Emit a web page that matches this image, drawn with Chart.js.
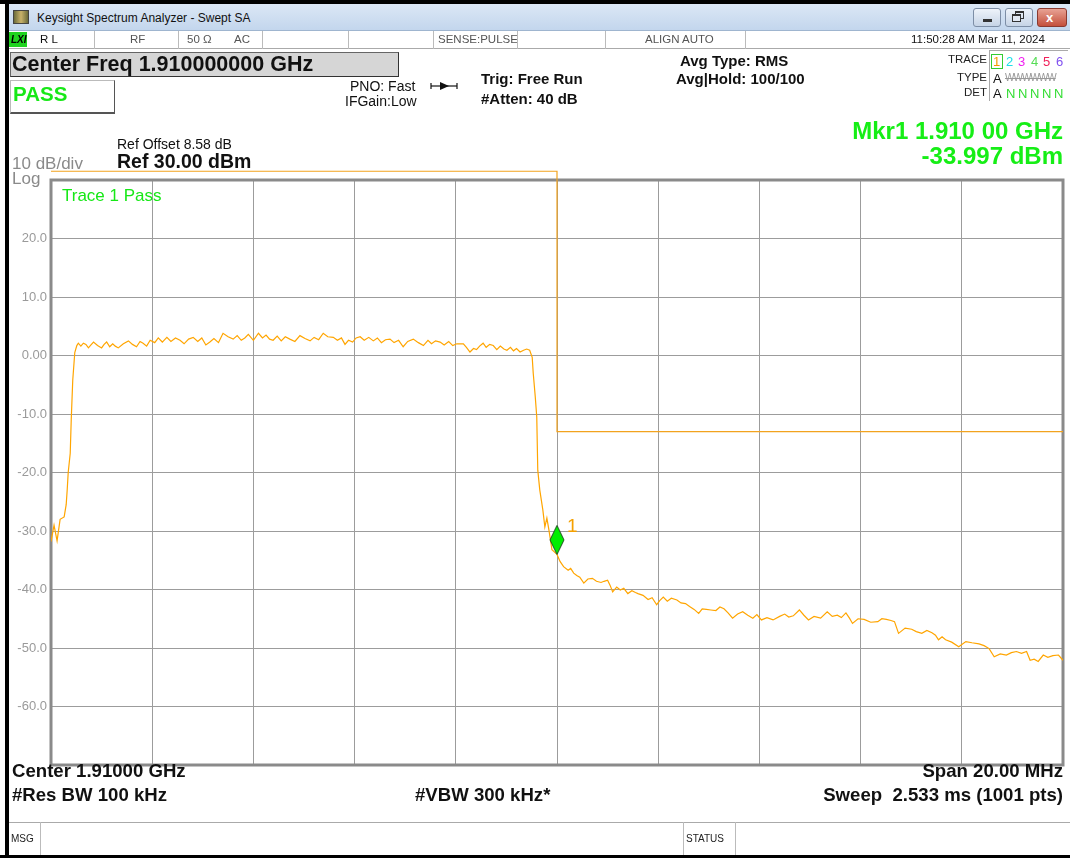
<!DOCTYPE html>
<html>
<head>
<meta charset="utf-8">
<title>Keysight Spectrum Analyzer - Swept SA</title>
<script src="https://cdn.jsdelivr.net/npm/chart.js@4.4.1/dist/chart.umd.min.js"></script>
<style>
  body { margin: 0; background: #fff; }
  #screen { position: relative; width: 1070px; height: 858px; overflow: hidden; background: #fff;
            font-family: "Liberation Sans", Arial, sans-serif; }
  #scope { position: absolute; left: 0; top: 0; }
  .t { position: absolute; white-space: nowrap; line-height: 1; }
  .b { font-weight: bold; }
  .box { position: absolute; box-sizing: border-box; }
</style>
</head>
<body>
<div id="screen">
  <canvas id="scope" width="1070" height="858"></canvas>

  <!-- window frame -->
  <div class="box" style="left:0;top:0;width:1070px;height:4px;background:#000"></div>
  <div class="box" style="left:5px;top:0;width:4px;height:858px;background:#000"></div>
  <div class="box" style="left:0;top:855px;width:1070px;height:3px;background:#000"></div>
  <div class="box" style="left:9px;top:4px;width:1061px;height:27px;background:linear-gradient(#dbe7f5,#c3d6ed);border-bottom:1px solid #9fb5cf"></div>
  <div class="box" style="left:13px;top:10px;width:16px;height:14px;background:linear-gradient(90deg,#6b6b3a,#c9b26a,#6b6b3a);border:1px solid #444"></div>
  <div class="t" style="left:37px;top:12px;font-size:12px;color:#111">Keysight Spectrum Analyzer - Swept SA</div>
  <div class="box" style="left:973px;top:8px;width:28px;height:19px;border:1px solid #7d8ea6;border-radius:3px;background:linear-gradient(#eef3fa,#c6d4e6)"></div>
  <div class="box" style="left:983px;top:19px;width:9px;height:3px;background:#333"></div>
  <div class="box" style="left:1005px;top:8px;width:28px;height:19px;border:1px solid #7d8ea6;border-radius:3px;background:linear-gradient(#eef3fa,#c6d4e6)"></div>
  <div class="box" style="left:1015px;top:11px;width:9px;height:8px;border:1px solid #333;border-top-width:2px"></div>
  <div class="box" style="left:1012px;top:14px;width:9px;height:8px;border:1px solid #333;border-top-width:2px;background:#e2e9f3"></div>
  <div class="box" style="left:1037px;top:8px;width:30px;height:19px;border:1px solid #8a3a30;border-radius:3px;background:linear-gradient(#e8a294,#c4503c)"></div>
  <div class="t b" style="left:1046px;top:11px;font-size:13px;color:#fff">x</div>

  <!-- status row -->
  <div class="box" style="left:9px;top:31px;width:1061px;height:18px;border-bottom:1px solid #aaa"></div>
  <div class="box" style="left:9px;top:32px;width:18px;height:15px;background:#1fd31f"></div>
  <div class="t b" style="left:11px;top:35px;font-size:10px;font-style:italic;color:#000">LXI</div>
  <div class="t" style="left:40px;top:34px;font-size:11.5px;color:#111">R L</div>
  <div class="box" style="left:94px;top:31px;width:1px;height:18px;background:#bbb"></div>
  <div class="t" style="left:130px;top:34px;font-size:11.5px;color:#555">RF</div>
  <div class="box" style="left:178px;top:31px;width:1px;height:18px;background:#bbb"></div>
  <div class="t" style="left:187px;top:34px;font-size:11.5px;color:#555">50 Ω</div>
  <div class="t" style="left:234px;top:34px;font-size:11.5px;color:#555">AC</div>
  <div class="box" style="left:262px;top:31px;width:1px;height:18px;background:#bbb"></div>
  <div class="box" style="left:348px;top:31px;width:1px;height:18px;background:#bbb"></div>
  <div class="box" style="left:433px;top:31px;width:1px;height:18px;background:#bbb"></div>
  <div class="t" style="left:438px;top:34px;font-size:11.5px;color:#555">SENSE:PULSE</div>
  <div class="box" style="left:517px;top:31px;width:1px;height:18px;background:#bbb"></div>
  <div class="box" style="left:605px;top:31px;width:1px;height:18px;background:#bbb"></div>
  <div class="t" style="left:645px;top:34px;font-size:11.5px;color:#555">ALIGN AUTO</div>
  <div class="box" style="left:745px;top:31px;width:1px;height:18px;background:#bbb"></div>
  <div class="t" style="left:911px;top:34px;font-size:11.5px;color:#111">11:50:28 AM Mar 11, 2024</div>

  <!-- settings block -->
  <div class="box" style="left:10px;top:52px;width:389px;height:25px;background:#d6d6d6;border:1px solid #666;border-right-color:#333;border-bottom-color:#333"></div>
  <div class="t b" style="left:12px;top:54px;font-size:21.5px;color:#111">Center Freq 1.910000000 GHz</div>
  <div class="box" style="left:10px;top:80px;width:105px;height:34px;border:1px solid #bbb;border-right-color:#555;border-bottom:2px solid #555"></div>
  <div class="t b" style="left:13px;top:84px;font-size:20.5px;color:#17e817">PASS</div>
  <div class="t" style="left:350px;top:79px;font-size:14px;color:#111">PNO: Fast</div>
  <div class="t" style="left:345px;top:94px;font-size:14px;color:#111">IFGain:Low</div>
  <svg class="t" style="left:430px;top:80px" width="28" height="12">
    <line x1="1" y1="6" x2="27" y2="6" stroke="#111" stroke-width="1.2"/>
    <line x1="1" y1="3" x2="1" y2="9" stroke="#111" stroke-width="1.2"/>
    <line x1="27" y1="3" x2="27" y2="9" stroke="#111" stroke-width="1.2"/>
    <polygon points="10,2 19,6 10,10" fill="#111"/>
  </svg>
  <div class="t b" style="left:481px;top:71px;font-size:15px;color:#111">Trig: Free Run</div>
  <div class="t b" style="left:481px;top:91px;font-size:15px;color:#111">#Atten: 40 dB</div>
  <div class="t b" style="left:680px;top:53px;font-size:15px;color:#111">Avg Type: RMS</div>
  <div class="t b" style="left:676px;top:71px;font-size:15px;color:#111">Avg|Hold: 100/100</div>

  <!-- trace table -->
  <div class="box" style="left:989px;top:50px;width:79px;height:1px;background:#aaa"></div>
  <div class="box" style="left:989px;top:50px;width:1px;height:51px;background:#aaa"></div>
  <div class="t" style="right:83px;top:54px;font-size:11.5px;color:#222">TRACE</div>
  <div class="t" style="right:83px;top:72px;font-size:11.5px;color:#222">TYPE</div>
  <div class="t" style="right:83px;top:87px;font-size:11.5px;color:#222">DET</div>
  <div class="box" style="left:991px;top:54px;width:12px;height:15px;border:1px solid #3c3"></div>
  <div class="t" style="left:993px;top:55px;font-size:13px;color:#f39a00">1</div>
  <div class="t" style="left:1006px;top:55px;font-size:13px;color:#1de0e8">2</div>
  <div class="t" style="left:1018px;top:55px;font-size:13px;color:#f020f0">3</div>
  <div class="t" style="left:1031px;top:55px;font-size:13px;color:#55dd55">4</div>
  <div class="t" style="left:1043px;top:55px;font-size:13px;color:#f0205a">5</div>
  <div class="t" style="left:1056px;top:55px;font-size:13px;color:#8050f0">6</div>
  <div class="t" style="left:993px;top:72px;font-size:13px;color:#111">A</div>
  <div class="t" style="left:1005px;top:73px;font-size:10px;color:#999;text-decoration:line-through;letter-spacing:-1px">WWWWWW</div>
  <div class="t" style="left:993px;top:87px;font-size:13px;color:#111">A</div>
  <div class="t" style="left:1006px;top:87px;font-size:13px;color:#33dd33;letter-spacing:2.6px">NNNNN</div>

  <!-- marker readout and reference -->
  <div class="t b" style="right:7px;top:119px;font-size:24px;color:#16ee16">Mkr1 1.910 00 GHz</div>
  <div class="t b" style="right:7px;top:144px;font-size:24px;color:#16ee16">-33.997 dBm</div>
  <div class="t" style="left:117px;top:137px;font-size:14px;color:#111">Ref Offset 8.58 dB</div>
  <div class="t b" style="left:117px;top:152px;font-size:19.5px;color:#111">Ref 30.00 dBm</div>
  <div class="t" style="left:12px;top:155px;font-size:17px;color:#8a8a8a">10 dB/div</div>
  <div class="t" style="left:12px;top:170px;font-size:17px;color:#8a8a8a">Log</div>
  <div class="t" style="left:62px;top:187px;font-size:17px;color:#16e816">Trace 1 Pass</div>
  <div class="t" style="left:567px;top:516px;font-size:19px;color:#f5a000">1</div>

  <!-- bottom annotations -->
  <div class="t b" style="left:12px;top:762px;font-size:18.6px;color:#111">Center 1.91000 GHz</div>
  <div class="t b" style="right:7px;top:762px;font-size:18.6px;color:#111">Span 20.00 MHz</div>
  <div class="t b" style="left:12px;top:786px;font-size:18.6px;color:#111">#Res BW 100 kHz</div>
  <div class="t b" style="left:415px;top:786px;font-size:18.6px;color:#111">#VBW 300 kHz*</div>
  <div class="t b" style="right:7px;top:786px;font-size:18.6px;color:#111">Sweep&nbsp; 2.533 ms (1001 pts)</div>
  <div class="box" style="left:9px;top:822px;width:1061px;height:1px;background:#aaa"></div>
  <div class="box" style="left:40px;top:822px;width:1px;height:33px;background:#bbb"></div>
  <div class="box" style="left:683px;top:822px;width:1px;height:33px;background:#bbb"></div>
  <div class="box" style="left:735px;top:822px;width:1px;height:33px;background:#bbb"></div>
  <div class="t" style="left:11px;top:834px;font-size:10px;color:#222">MSG</div>
  <div class="t" style="left:686px;top:834px;font-size:10px;color:#222">STATUS</div>
</div>

<script>
  // trace 1 (MHz, dBm)
  var freqMHz = [
    1900.00, 1900.06, 1900.12, 1900.18, 1900.26, 1900.30, 1900.32, 1900.34, 1900.38, 1900.40,
    1900.43, 1900.47, 1900.51, 1900.54, 1900.59, 1900.64, 1900.69, 1900.74, 1900.79, 1900.84,
    1900.92, 1901.00, 1901.05, 1901.10, 1901.16, 1901.22, 1901.27, 1901.33, 1901.43, 1901.53,
    1901.61, 1901.69, 1901.76, 1901.82, 1901.89, 1901.96, 1902.05, 1902.12, 1902.20, 1902.29,
    1902.37, 1902.46, 1902.55, 1902.63, 1902.72, 1902.81, 1902.90, 1902.98, 1903.06, 1903.14,
    1903.22, 1903.31, 1903.40, 1903.50, 1903.60, 1903.68, 1903.76, 1903.83, 1903.90, 1904.00,
    1904.10, 1904.18, 1904.25, 1904.32, 1904.39, 1904.47, 1904.55, 1904.63, 1904.72, 1904.82,
    1904.92, 1905.02, 1905.12, 1905.20, 1905.29, 1905.38, 1905.47, 1905.58, 1905.66, 1905.74,
    1905.81, 1905.88, 1905.96, 1906.03, 1906.11, 1906.19, 1906.28, 1906.37, 1906.45, 1906.53,
    1906.61, 1906.70, 1906.78, 1906.87, 1906.96, 1907.05, 1907.16, 1907.26, 1907.36, 1907.45,
    1907.52, 1907.60, 1907.69, 1907.77, 1907.86, 1907.94, 1908.02, 1908.15, 1908.21, 1908.28,
    1908.35, 1908.41, 1908.47, 1908.54, 1908.60, 1908.67, 1908.74, 1908.81, 1908.88, 1908.95,
    1909.01, 1909.08, 1909.14, 1909.20, 1909.27, 1909.34, 1909.40, 1909.46, 1909.51, 1909.53,
    1909.57, 1909.60, 1909.62, 1909.66, 1909.72, 1909.76, 1909.80, 1909.84, 1909.90, 1910.00,
    1910.06, 1910.13, 1910.22, 1910.27, 1910.33, 1910.39, 1910.45, 1910.53, 1910.61, 1910.70,
    1910.78, 1910.87, 1910.93, 1911.00, 1911.05, 1911.10, 1911.18, 1911.25, 1911.32, 1911.40,
    1911.48, 1911.55, 1911.60, 1911.70, 1911.80, 1911.88, 1911.97, 1912.03, 1912.10, 1912.18,
    1912.26, 1912.37, 1912.45, 1912.54, 1912.62, 1912.71, 1912.80, 1912.87, 1912.95, 1913.04,
    1913.14, 1913.22, 1913.30, 1913.38, 1913.47, 1913.57, 1913.67, 1913.77, 1913.87, 1913.95,
    1914.04, 1914.15, 1914.27, 1914.40, 1914.50, 1914.58, 1914.67, 1914.79, 1914.88, 1914.97,
    1915.08, 1915.21, 1915.34, 1915.44, 1915.54, 1915.62, 1915.71, 1915.78, 1915.84, 1915.95,
    1916.07, 1916.20, 1916.34, 1916.42, 1916.51, 1916.60, 1916.67, 1916.75, 1916.88, 1917.01,
    1917.10, 1917.21, 1917.31, 1917.41, 1917.48, 1917.54, 1917.61, 1917.68, 1917.80, 1917.94,
    1918.08, 1918.20, 1918.34, 1918.44, 1918.54, 1918.64, 1918.76, 1918.88, 1918.98, 1919.08,
    1919.18, 1919.28, 1919.35, 1919.43, 1919.51, 1919.61, 1919.70, 1919.80, 1919.91, 1920.00
  ];
  var traceDbm = [
    -31.8, -29.0, -31.7, -28.0, -27.6, -25.5, -23.0, -20.0, -16.7, -11.0,
    -4.2, 0.5, 1.7, 2.1, 1.6, 2.1, 1.9, 1.3, 1.8, 2.3,
    1.7, 1.3, 1.9, 2.3, 1.5, 2.0, 1.6, 1.3, 2.0, 2.5,
    1.9, 1.5, 2.4, 2.1, 1.6, 2.6, 2.2, 3.0, 2.3, 3.1,
    2.4, 3.0, 2.6, 2.0, 2.8, 3.1, 2.4, 3.0, 1.8, 2.3,
    2.9, 2.2, 3.8, 3.2, 2.8, 3.4, 2.6, 3.0, 3.6, 2.6,
    3.8, 3.0, 3.5, 2.8, 2.6, 3.3, 2.5, 3.2, 2.8, 2.4,
    3.4, 2.9, 2.5, 3.1, 2.7, 3.8, 3.2, 3.1, 2.6, 3.0,
    1.9, 2.6, 2.3, 3.0, 3.2, 2.6, 3.1, 2.5, 3.0, 2.2,
    2.7, 2.8, 2.2, 2.6, 1.5, 2.4, 2.8, 2.2, 1.7, 2.6,
    2.0, 2.5, 2.3, 1.8, 2.4, 1.7, 2.0, 2.0, 1.4, 0.6,
    1.2, 1.0, 1.6, 2.1, 1.4, 1.9, 1.7, 1.0, 1.6, 1.1,
    0.9, 1.4, 0.8, 1.2, 0.6, 0.9, 1.1, 0.9, -0.3, -3.0,
    -7.0, -10.5, -19.6, -23.0, -26.4, -29.3, -27.8, -29.8, -33.2, -34.0,
    -35.2, -36.1, -36.7, -36.4, -37.2, -37.6, -37.9, -38.9, -38.2, -38.1,
    -38.6, -38.8, -38.6, -38.4, -39.3, -40.4, -39.6, -40.1, -39.8, -40.7,
    -40.2, -40.5, -40.7, -41.0, -41.7, -41.4, -42.6, -41.9, -41.3, -42.0,
    -41.5, -41.8, -42.3, -42.4, -42.9, -43.4, -44.1, -43.3, -43.4, -43.5,
    -43.6, -43.0, -43.3, -44.0, -44.9, -44.2, -43.8, -44.4, -44.9, -44.3,
    -45.2, -44.8, -45.2, -44.6, -44.2, -44.7, -44.5, -43.5, -44.4, -45.2,
    -44.6, -44.9, -43.8, -44.6, -44.4, -44.8, -44.0, -44.9, -45.8, -45.0,
    -45.1, -45.6, -45.5, -45.0, -45.1, -45.3, -45.5, -47.5, -46.6, -46.8,
    -47.2, -47.5, -47.0, -47.4, -47.8, -48.6, -48.1, -48.6, -49.0, -49.8,
    -48.9, -49.1, -49.3, -49.6, -50.1, -51.5, -51.0, -51.2, -50.8, -50.6,
    -50.9, -50.6, -52.1, -51.9, -52.3, -51.2, -51.6, -51.3, -51.2, -52.1
  ];

  // limit line
  var limitFreq = [1900, 1910, 1910, 1920];
  var limitDbm = [31.5, 31.5, -13, -13];

  // marker 1
  var markerFreq = [1910.00];
  var markerDbm = [-34.0];

  // y axis grid and its labels
  var yGridDbm = [30, 20, 10, 0, -10, -20, -30, -40, -50, -60, -70];
  var yGridLabels = ['', '20.0', '10.0', '0.00', '-10.0', '-20.0', '-30.0', '-40.0', '-50.0', '-60.0', ''];

  function toXY(xs, ys) {
    return xs.map(function (x, i) { return { x: x, y: ys[i] }; });
  }

  // green diamond, tip sits on the trace point
  var diamond = document.createElement('canvas');
  diamond.width = 16;
  diamond.height = 60;
  var dc = diamond.getContext('2d');
  dc.beginPath();
  dc.moveTo(8, 1);
  dc.lineTo(15, 15.5);
  dc.lineTo(8, 30);
  dc.lineTo(1, 15.5);
  dc.closePath();
  dc.fillStyle = '#00ee00';
  dc.fill();
  dc.strokeStyle = '#234d23';
  dc.lineWidth = 1;
  dc.stroke();

  var framePlugin = {
    id: 'frame',
    beforeDatasetsDraw: function (chart) {
      var a = chart.chartArea, c = chart.ctx;
      c.save();
      c.strokeStyle = '#8a8a8a';
      c.lineWidth = 3;
      c.strokeRect(a.left, a.top, a.right - a.left, a.bottom - a.top);
      c.restore();
    }
  };

  var ctx = document.getElementById('scope').getContext('2d');
  var chart = new Chart(ctx, {
    type: 'line',
    data: {
      datasets: [
        {
          label: 'Mkr1',
          data: toXY(markerFreq, markerDbm),
          showLine: false,
          pointStyle: diamond,
          pointRadius: 6,
          order: 0
        },
        {
          label: 'Trace 1',
          data: toXY(freqMHz, traceDbm),
          borderColor: '#ffa500',
          borderWidth: 1.2,
          pointRadius: 0,
          tension: 0,
          order: 1
        },
        {
          label: 'Limit',
          data: toXY(limitFreq, limitDbm),
          borderColor: '#f2a31e',
          borderWidth: 1.2,
          pointRadius: 0,
          tension: 0,
          clip: false,
          order: 2
        }
      ]
    },
    options: {
      responsive: false,
      animation: false,
      devicePixelRatio: 1,
      layout: { padding: { left: 0, top: 180, right: 7, bottom: 93 } },
      plugins: { legend: { display: false }, tooltip: { enabled: false } },
      scales: {
        x: {
          type: 'linear',
          min: 1900,
          max: 1920,
          ticks: { display: false, stepSize: 2 },
          grid: { color: '#9c9c9c', lineWidth: 1, drawTicks: false },
          border: { display: false },
          afterFit: function (s) { s.height = 0; }
        },
        y: {
          min: -70,
          max: 30,
          ticks: {
            stepSize: 10,
            padding: 4,
            color: '#9a9a9a',
            font: { family: 'Liberation Sans', size: 13 },
            callback: function (v) {
              var i = yGridDbm.indexOf(v);
              return i < 0 ? '' : yGridLabels[i];
            }
          },
          grid: { color: '#9c9c9c', lineWidth: 1, drawTicks: false },
          border: { display: false },
          afterFit: function (s) { s.width = 51; }
        }
      }
    },
    plugins: [framePlugin]
  });
</script>
</body>
</html>
